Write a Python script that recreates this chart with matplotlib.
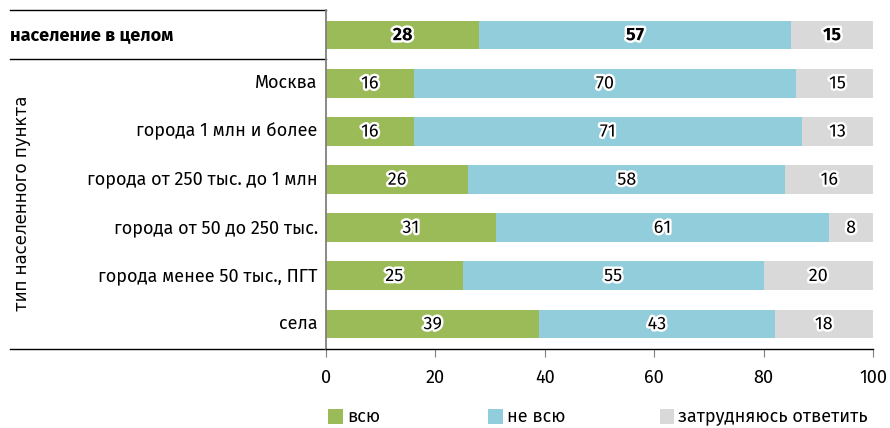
import matplotlib
matplotlib.use("Agg")
import matplotlib.pyplot as plt
import matplotlib.patheffects as pe
from matplotlib.patches import Rectangle
from matplotlib.lines import Line2D

plt.rcParams['font.family'] = ['Fira Sans', 'DejaVu Sans']

categories = [
    "население в целом",
    "Москва",
    "города 1 млн и более",
    "города от 250 тыс. до 1 млн",
    "города от 50 до 250 тыс.",
    "города менее 50 тыс., ПГТ",
    "села",
]
all_vals = [28, 16, 16, 26, 31, 25, 39]
not_all_vals = [57, 70, 71, 58, 61, 55, 43]
unsure_vals = [15, 15, 13, 16, 8, 20, 18]
series_names = ["всю", "не всю", "затрудняюсь ответить"]
colors = ["#9BBB59", "#92CDDC", "#D9D9D9"]
x_ticks = [0, 20, 40, 60, 80, 100]
group_label = "тип населенного пункта"

fig = plt.figure(figsize=(8.9, 4.28), dpi=100)
ax = fig.add_axes([326 / 890, 1 - 349 / 428, 547 / 890, 339 / 428])

fs = 13
outline = [pe.withStroke(linewidth=3.5, foreground="white")]
y = list(range(len(categories)))
lefts = [0] * len(categories)
for vals, col in zip([all_vals, not_all_vals, unsure_vals], colors):
    ax.barh(y, vals, left=lefts, height=0.6, color=col, edgecolor="none")
    for i, (v, l) in enumerate(zip(vals, lefts)):
        ax.text(l + v / 2, i, str(v), ha="center", va="center", fontsize=fs,
                fontweight="bold" if i == 0 else "normal",
                path_effects=outline, color="black", clip_on=False)
    lefts = [a + b for a, b in zip(lefts, vals)]

ax.set_xlim(0, 100)
ax.set_ylim(6.52, -0.52)
ax.set_xticks(x_ticks)
ax.set_xticklabels([str(t) for t in x_ticks], fontsize=fs)
ax.tick_params(axis="x", length=6, color="#808080", pad=8)
ax.set_yticks([])
for s in ["top", "right"]:
    ax.spines[s].set_visible(False)
ax.spines["left"].set_color("#808080")
ax.spines["left"].set_linewidth(1.3)
ax.spines["bottom"].set_color("black")
ax.spines["bottom"].set_linewidth(1.0)

# category labels
x_left = (10 - 326) / 547
tr = ax.get_yaxis_transform()
for i, c in enumerate(categories):
    if i == 0:
        ax.text(x_left, i, c, transform=tr, ha="left",
                va="center", fontsize=fs, fontweight="bold")
    else:
        ax.text(-0.015, i, c, transform=tr, ha="right",
                va="center", fontsize=fs)

# frame lines to the left of the bars
for yy in [-0.52, 0.5, 6.52]:
    ax.add_line(Line2D([x_left, 0], [yy, yy], transform=tr, color="black",
                       linewidth=1.0, clip_on=False))

ax.text((22 - 326) / 547, 3.5, group_label, transform=tr, rotation=90,
        ha="center", va="center", fontsize=12, family="DejaVu Sans")

# legend
leg_y = -0.199
for xs, name, col in zip([0.004, 0.296, 0.61], series_names, colors):
    ax.add_patch(Rectangle((xs, leg_y - 0.021), 0.027, 0.043, transform=ax.transAxes,
                           facecolor=col, edgecolor="none", clip_on=False))
    ax.text(xs + 0.034, leg_y, name, transform=ax.transAxes, ha="left",
            va="center", fontsize=fs)

fig.savefig("out.png", dpi=100)
